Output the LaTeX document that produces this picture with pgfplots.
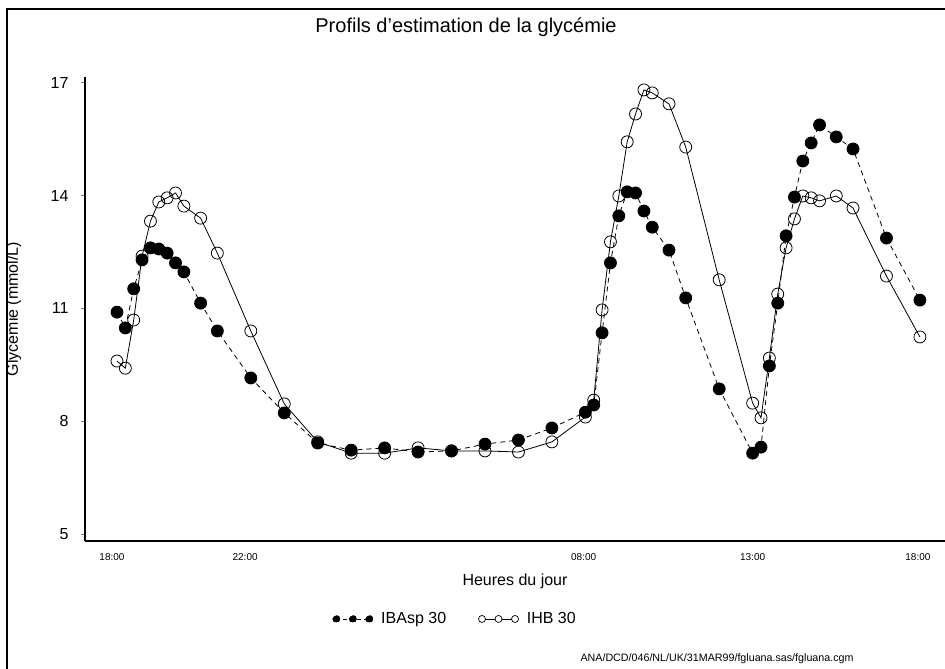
\documentclass[border=0pt]{standalone}
\usepackage{fontspec}
\setmainfont{Liberation Sans}
\usepackage{pgfplots}
\pgfplotsset{compat=1.18}

% hours after 18:00, glycaemia in mmol/L
\begin{document}
\begin{tikzpicture}[x=1pt,y=1pt]
\path[use as bounding box] (0,0) rectangle (945,669);
\draw[line width=2pt] (7,-20) -- (7,660) -- (980,660);
\node[font=\fontsize{20}{23}\selectfont] at (466,642) {Profils d’estimation de la glycémie};
\node[font=\fontsize{10.7}{12}\selectfont, anchor=west] at (577,10) {ANA/DCD/046/NL/UK/31MAR99/fgluana.sas/fgluana.cgm};
\begin{axis}[
  at={(85pt,128pt)}, anchor=south west,
  scale only axis, width=860pt, height=464pt,
  xmin=-0.956, xmax=24.75, ymin=4.814, ymax=17.154,
  axis x line=bottom, axis y line=left,
  axis line style={-, line width=1.5pt},
  ytick={5,8,11,14,17},
  xtick={-0.15,3.83,13.95,19,23.94},
  xticklabels={18:00,22:00,08:00,13:00,18:00},
  tick align=outside, major tick length=4pt,
  ytick style={line width=0.9pt}, xtick style={draw=none},
  /pgf/number format/assume math mode=true,
  yticklabel style={font=\fontsize{16}{19}\selectfont, xshift=-9pt},
  xticklabel style={font=\fontsize{10}{12}\selectfont, yshift=-5pt},
  ylabel={Glycémie (mmol/L)},
  ylabel style={font=\fontsize{16}{19}\selectfont, at={(axis description cs:-0.083,0.5)}, anchor=center},
  xlabel={Heures du jour},
  xlabel style={font=\fontsize{16}{19}\selectfont, at={(axis description cs:0.5,-0.088)}, anchor=center},
  legend columns=2,
  legend cell align=left,
  legend style={at={(axis description cs:0.284,-0.168)}, anchor=west, draw=none, fill=none,
    font=\fontsize{16}{19}\selectfont,
    /tikz/every odd column/.append style={column sep=6pt},
    /tikz/every even column/.append style={column sep=30pt}},
  clip=false,
]
\addplot[black, line width=0.8pt, mark=o, mark size=6pt, mark options={solid, line width=0.8pt},
  forget plot] coordinates {
  (0,9.60) (0.25,9.41) (0.5,10.69) (0.75,12.39) (1,13.32) (1.25,13.83) (1.5,13.94) (1.75,14.07)
  (2,13.72) (2.5,13.40) (3,12.47) (4,10.40) (5,8.46) (6,7.45) (7,7.15) (8,7.15) (9,7.29)
  (10,7.21) (11,7.21) (12,7.18) (13,7.45) (14,8.11) (14.25,8.56) (14.5,10.96) (14.75,12.77)
  (15,13.99) (15.25,15.43) (15.5,16.17) (15.75,16.81) (16,16.73) (16.5,16.44) (17,15.29)
  (18,11.76) (19,8.48) (19.25,8.09) (19.5,9.68) (19.75,11.38) (20,12.61) (20.25,13.38)
  (20.5,13.99) (20.75,13.94) (21,13.86) (21.5,13.99) (22,13.67) (23,11.86) (24,10.24)
};
\addplot[black, line width=0.8pt, dash pattern=on 5pt off 4pt, mark=*, mark size=6pt,
  mark options={solid},
  legend image code/.code={
    \draw[black, line width=0.8pt, dash pattern=on 4pt off 3pt] (0pt,0pt) -- (33pt,0pt);
    \fill[black] (0pt,0pt) circle (3.5pt) (16.5pt,0pt) circle (3.5pt) (33pt,0pt) circle (3.5pt);
  }] coordinates {
  (0,10.90) (0.25,10.48) (0.5,11.52) (0.75,12.29) (1,12.61) (1.25,12.58) (1.5,12.47) (1.75,12.21)
  (2,11.97) (2.5,11.14) (3,10.40) (4,9.15) (5,8.22) (6,7.42) (7,7.23) (8,7.29) (9,7.18)
  (10,7.21) (11,7.39) (12,7.50) (13,7.82) (14,8.24) (14.25,8.43) (14.5,10.35) (14.75,12.21)
  (15,13.46) (15.25,14.10) (15.5,14.07) (15.75,13.59) (16,13.16) (16.5,12.55) (17,11.28)
  (18,8.86) (19,7.15) (19.25,7.31) (19.5,9.47) (19.75,11.14) (20,12.93) (20.25,13.96)
  (20.5,14.92) (20.75,15.40) (21,15.88) (21.5,15.56) (22,15.24) (23,12.87) (24,11.22)
};
\addlegendentry{IBAsp 30}
\addlegendimage{legend image code/.code={
    \draw[black, line width=0.8pt] (0pt,0pt) -- (33pt,0pt);
    \draw[black, line width=0.7pt, fill=white] (0pt,0pt) circle (3.5pt) (16.5pt,0pt) circle (3.5pt) (33pt,0pt) circle (3.5pt);
  }}
\addlegendentry{IHB 30}
\end{axis}
\end{tikzpicture}
\end{document}
